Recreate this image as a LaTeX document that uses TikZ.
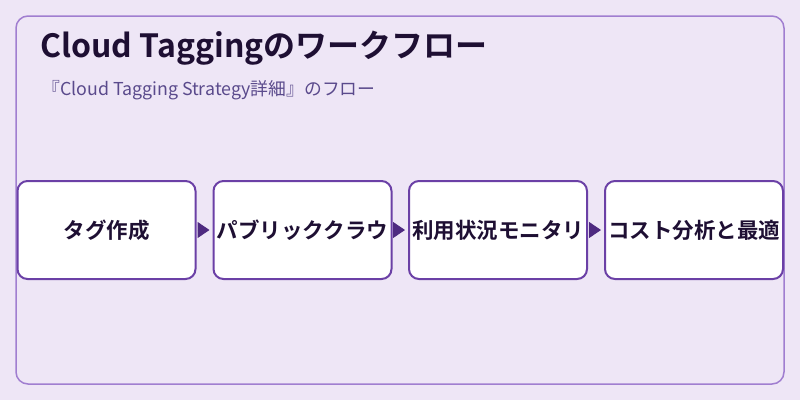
\documentclass[tikz,border=0pt]{standalone}
\usepackage{fontspec}
\setmainfont{Noto Sans CJK JP}
\newfontfamily\jpbold{Noto Sans CJK JP Bold}
\usetikzlibrary{arrows.meta}
\definecolor{bgc}{HTML}{EEE6F6}
\definecolor{framec}{HTML}{A07ED0}
\definecolor{boxc}{HTML}{6B40A6}
\definecolor{arrc}{HTML}{4E2A80}
\definecolor{titlec}{HTML}{1E0F33}
\definecolor{subc}{HTML}{5A4A8C}
\tikzset{
  stepbox/.style={draw=boxc, line width=2pt, fill=white, rounded corners=10pt,
    minimum width=178pt, minimum height=98pt, inner sep=0pt,
    font=\jpbold\fontsize{21.5}{26}\selectfont, text=titlec},
  flow/.style={draw=arrc, line width=1pt, -{Triangle[length=12pt,width=16pt]}}
}
\begin{document}
\begin{tikzpicture}[x=1pt,y=-1pt]
\fill[bgc] (0,0) rectangle (800,400);
\useasboundingbox (0,0) rectangle (800,400);
\draw[framec, line width=1.5pt, rounded corners=12pt] (16,16) rectangle (784,384);
\node[anchor=base west, inner sep=0pt, text=titlec, font=\jpbold\fontsize{32}{38}\selectfont] (title) at (40,57) {Cloud Taggingのワークフロー};
\node[anchor=base west, inner sep=0pt, text=subc, font=\fontsize{17.8}{21}\selectfont] (sub) at (42,95) {『Cloud Tagging Strategy詳細』のフロー};
\node[stepbox] (b1) at (106.5,230) {タグ作成};
\node[stepbox] (b2) at (302.5,230) {パブリッククラウ};
\node[stepbox] (b3) at (498,230) {利用状況モニタリ};
\node[stepbox] (b4) at (694,230) {コスト分析と最適};
\draw[flow] ([xshift=1pt]b1.east) -- ([xshift=-3pt]b2.west);
\draw[flow] ([xshift=1pt]b2.east) -- ([xshift=-3pt]b3.west);
\draw[flow] ([xshift=1pt]b3.east) -- ([xshift=-3pt]b4.west);
\end{tikzpicture}
\end{document}
